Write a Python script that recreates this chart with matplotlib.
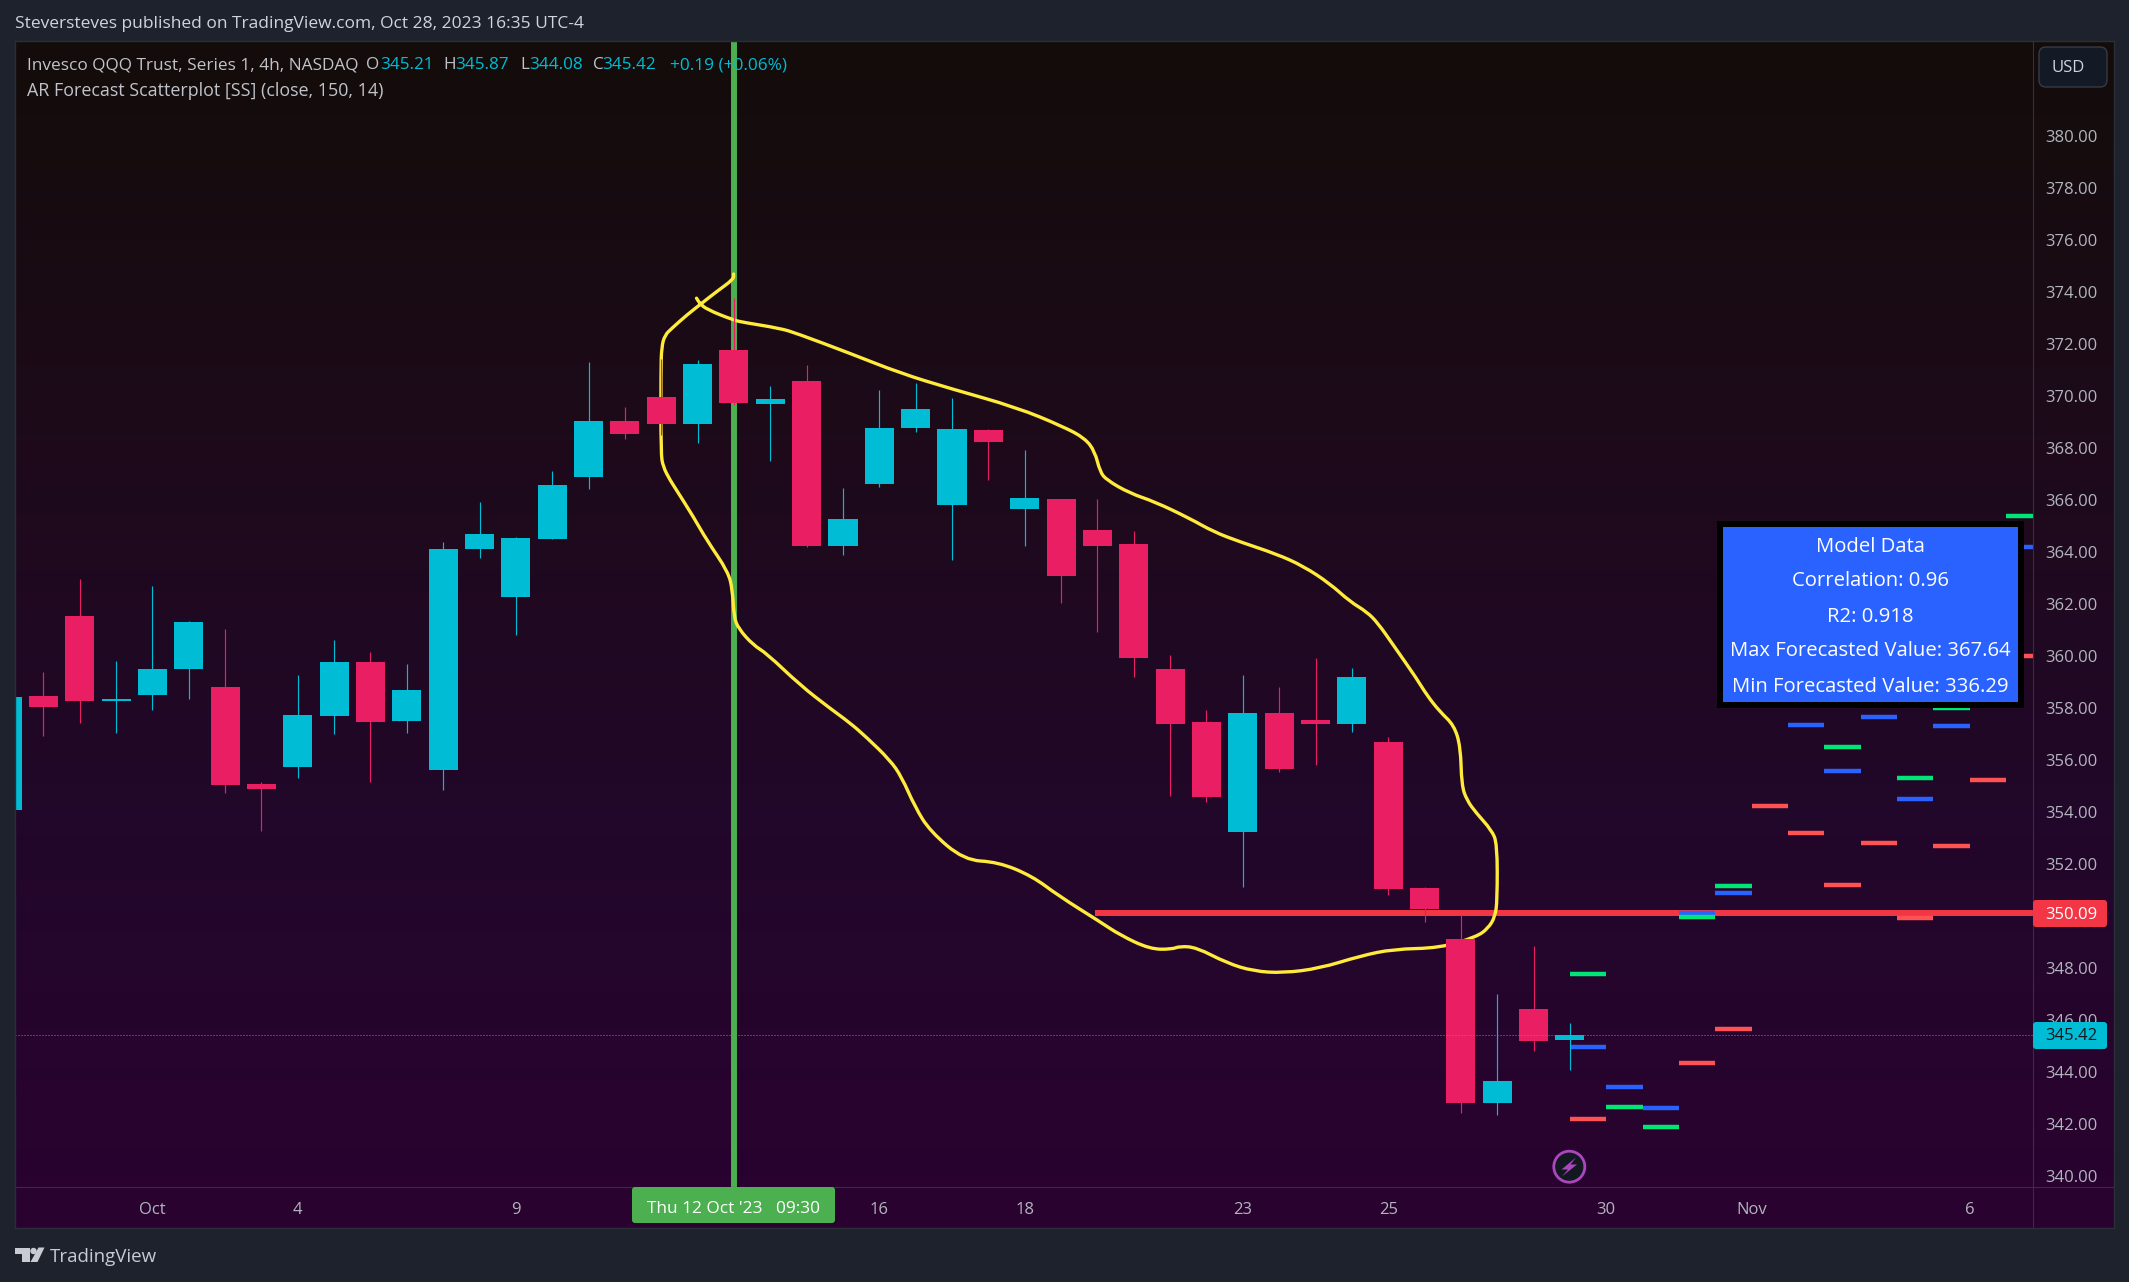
import numpy as np
import matplotlib
matplotlib.use("Agg")
import matplotlib.pyplot as plt
from matplotlib.colors import LinearSegmentedColormap
from matplotlib.lines import Line2D
from matplotlib.path import Path
from matplotlib.patches import Rectangle, FancyBboxPatch, Circle, Polygon, PathPatch
from matplotlib.transforms import Affine2D

plt.rcParams["font.family"] = ["Open Sans", "DejaVu Sans"]

# ===================== data =====================
opens = [354.07, 358.45, 361.53, 358.26, 358.49, 359.49, 358.80, 355.07, 355.72, 357.68, 359.76,
         357.49, 355.60, 364.10, 362.26, 364.49, 366.87, 369.03, 369.95, 368.91, 371.76, 369.68,
         370.57, 364.22, 366.60, 368.76, 365.80, 368.68, 365.64, 366.03, 364.83, 364.30, 359.49,
         357.45, 353.22, 357.80, 357.53, 357.37, 356.68, 351.07, 349.10, 342.80, 346.41, 345.21]
highs = [358.41, 359.37, 362.95, 359.80, 362.68, 361.34, 361.03, 355.14, 359.26, 360.60, 360.14,
         359.68, 364.37, 365.91, 364.57, 367.10, 371.30, 369.57, 371.41, 371.37, 373.76, 370.37,
         371.18, 366.45, 370.22, 370.49, 369.91, 368.72, 367.91, 366.03, 366.03, 364.80, 360.03,
         357.91, 359.26, 358.80, 359.91, 359.53, 356.87, 351.10, 350.03, 346.99, 348.83, 345.87]
lows = [354.07, 356.91, 357.41, 357.03, 357.91, 358.34, 354.72, 353.26, 355.30, 356.99, 355.14,
        357.03, 354.84, 363.76, 360.80, 364.49, 366.41, 368.33, 368.49, 368.18, 369.64, 367.49,
        364.18, 363.87, 366.49, 368.60, 363.68, 366.76, 364.22, 362.03, 360.91, 359.18, 354.60,
        354.37, 351.10, 355.53, 355.80, 357.07, 350.80, 349.76, 342.41, 342.33, 344.80, 344.08]
closes = [358.41, 358.03, 358.26, 358.33, 359.49, 361.30, 355.03, 354.87, 357.72, 359.76, 357.45,
          358.68, 364.10, 364.68, 364.53, 366.57, 369.03, 368.53, 368.91, 371.22, 369.72, 369.87,
          364.22, 365.26, 368.76, 369.49, 368.72, 368.22, 366.07, 363.07, 364.22, 359.91, 357.37,
          354.57, 357.80, 355.64, 357.37, 359.18, 351.03, 350.26, 342.80, 343.64, 345.18, 345.42]

# forecast steps start at bar 43, nan = hidden behind the panel
forecast_start = 43
forecast_green = [347.75, 342.66, 341.89, 349.95, 351.15, np.nan, np.nan, 356.50, np.nan, 355.31, 358.00, np.nan, 365.37]
forecast_blue = [344.96, 343.40, 342.60, 350.10, 350.89, np.nan, 357.32, 355.57, 357.65, 354.50, 357.30, np.nan, 364.18]
forecast_red = [342.18, np.nan, np.nan, 344.32, 345.66, 354.22, 353.19, 351.17, 352.81, 349.92, 352.70, 355.21, 360.00]

# freehand yellow drawing: bar position and price
drawing_bars = [19.99, 19.99, 19.52, 19.11, 18.70, 18.29, 18.10, 18.01, 17.99, 17.99, 18.05, 18.24, 18.42, 18.88,
                19.25, 19.84, 19.96, 20.00, 20.12, 20.53, 20.90, 21.82, 22.64, 23.19, 23.65, 24.29, 24.61, 24.98,
                25.39, 26.33, 27.26, 28.20, 28.94, 30.07, 30.62, 31.44, 32.04, 32.27, 32.73, 33.55, 34.29, 35.11,
                36.12, 37.22, 38.14, 39.42, 40.43, 40.75, 40.94, 41.00, 41.00, 40.84, 40.43, 40.16, 40.02, 39.99,
                39.81, 39.42, 39.06, 38.78, 38.14, 37.72, 37.41, 36.95, 36.39, 35.66, 34.93, 33.92, 33.19, 32.54,
                31.58, 30.89, 30.25, 30.07, 29.93, 29.66, 29.06, 27.78, 25.94, 24.57, 23.19, 21.72, 21.27, 20.26,
                19.98, 19.25, 19.06, 18.97]
drawing_prices = [374.68, 374.48, 374.00, 373.55, 373.10, 372.59, 372.33, 371.88, 370.99, 367.78, 367.27, 366.76,
                  366.37, 365.35, 364.45, 363.23, 362.53, 361.50, 361.05, 360.41, 360.09, 358.87, 357.98, 357.42,
                  356.86, 355.99, 355.35, 354.19, 353.26, 352.14, 352.07, 351.53, 350.76, 349.77, 349.26, 348.72,
                  348.71, 348.83, 348.78, 348.19, 347.87, 347.80, 347.98, 348.45, 348.72, 348.76, 349.19, 349.52,
                  349.96, 350.60, 352.78, 353.30, 353.94, 354.45, 355.03, 356.50, 357.33, 357.85, 358.49, 359.13,
                  360.41, 361.25, 361.69, 362.08, 362.78, 363.45, 363.91, 364.38, 364.77, 365.28, 365.92, 366.25,
                  366.76, 367.08, 367.85, 368.36, 368.81, 369.55, 370.28, 370.87, 371.63, 372.40, 372.59, 372.82,
                  372.91, 373.32, 373.55, 373.75]

# 350.00 is not drawn on the scale, the level label sits there
price_ticks = [p for p in range(340, 382, 2) if p != 350]
time_tick_bars = [4, 8, 14, 24, 28, 34, 38, 44, 48, 54]
time_tick_labels = ["Oct", "4", "9", "16", "18", "23", "25", "30", "Nov", "6"]
marked_bar = 20
level_price = 350.09
level_start = 29.92
last_price = 345.42
panel_lines = ["Model Data", "Correlation: 0.96", "R2: 0.918",
               "Max Forecasted Value: 367.64", "Min Forecasted Value: 336.29"]

# ===================== colours =====================
TEAL = "#00bcd4"
PINK = "#e91e63"
GREY = "#b2b5be"
LIGHT = "#d1d4dc"
LEGEND = "#c0c3cb"
FRAME = "#1e222d"
SEP = "#3b2b45"

# ===================== figure and panes =====================
W, H = 2129, 1282
fig = plt.figure(figsize=(W / 100, H / 100), dpi=100, facecolor=FRAME)
px = Affine2D().scale(1, -1).translate(0, H)  # overlay coordinates in image pixels


def add_axes_px(x0, y0, x1, y1):
    return fig.add_axes([x0 / W, 1 - y1 / H, (x1 - x0) / W, (y1 - y0) / H])


def px_text(x, y, s, color=LIGHT, size=12, ha="left", weight="normal", zorder=6):
    fig.text(x, y, s, color=color, fontsize=size, ha=ha, va="center", weight=weight,
             transform=px, zorder=zorder)


def px_rect(x0, y0, x1, y1, color, zorder=4):
    fig.add_artist(Rectangle((x0, y0), x1 - x0, y1 - y0, facecolor=color, edgecolor="none",
                             transform=px, zorder=zorder))


def px_box(x0, y0, x1, y1, color, edge="none", radius=3, zorder=4):
    fig.add_artist(FancyBboxPatch((x0 + radius, y0 + radius), x1 - x0 - 2 * radius, y1 - y0 - 2 * radius,
                                  boxstyle=f"round,pad={radius},rounding_size={radius}",
                                  facecolor=color, edgecolor=edge, linewidth=1, transform=px, zorder=zorder))


# vertical background gradient behind chart and both scales
bg = add_axes_px(15, 41, 2114, 1228)
bg_cmap = LinearSegmentedColormap.from_list("pane", ["#130d0a", "#1d0a1a", "#22072a", "#2a0230"])
bg.imshow(np.linspace(0, 1, 256)[:, None], cmap=bg_cmap, aspect="auto")
bg.axis("off")

ax = add_axes_px(15, 41, 2033, 1187)
ax.patch.set_alpha(0)
ax.set_xlim(0.22, 55.74)
ax.set_ylim(339.57, 383.64)
for side in ax.spines.values():
    side.set_visible(False)

ax.yaxis.tick_right()
ax.set_yticks(price_ticks)
ax.set_yticklabels([f"{p:.2f}" for p in price_ticks])
ax.set_xticks(time_tick_bars)
ax.set_xticklabels(time_tick_labels)
ax.tick_params(axis="y", length=0, pad=8.6, labelcolor=GREY, labelsize=12)
ax.tick_params(axis="x", length=0, pad=10.5, labelcolor=GREY, labelsize=12)

# ===================== marks =====================
ax.axvline(marked_bar, color="#4caf50", lw=4.3, zorder=1)
ax.plot([level_start, ax.get_xlim()[1]], [level_price, level_price], color="#f23645", lw=4.3,
        solid_capstyle="butt", zorder=2)

# freehand stroke: the read points steer a quadratic curve so it has no corners
stroke = np.column_stack([drawing_bars, drawing_prices])
mids = (stroke[:-1] + stroke[1:]) / 2
verts = [stroke[0]]
codes = [Path.MOVETO]
for ctrl, end in zip(stroke[:-1], mids):
    verts += [ctrl, end]
    codes += [Path.CURVE3, Path.CURVE3]
verts.append(stroke[-1])
codes.append(Path.LINETO)
ax.add_patch(PathPatch(Path(verts, codes), facecolor="none", edgecolor="#ffeb3b", lw=2.4,
                       capstyle="round", joinstyle="round", zorder=3))

step_left = forecast_start + np.arange(len(forecast_red))
ax.hlines(forecast_red, step_left, step_left + 1, color="#ff5252", lw=3.2, zorder=4)
ax.hlines(forecast_blue, step_left, step_left + 1, color="#2962ff", lw=3.2, zorder=4)
ax.hlines(forecast_green, step_left, step_left + 1, color="#00e676", lw=3.2, zorder=4)

bars = np.arange(len(opens))
o, h, l, c = map(np.array, (opens, highs, lows, closes))
colors = [TEAL if b >= a else PINK for a, b in zip(o, c)]
ax.vlines(bars, l, h, colors=colors, lw=0.85, zorder=5)
ax.bar(bars, np.abs(c - o), bottom=np.minimum(o, c), width=0.8, color=colors, linewidth=0, zorder=6)

ax.axhline(last_price, color=TEAL, lw=0.72, ls=(0, (1, 2)), zorder=7)

# ===================== frame lines =====================
for xs, ys in [((15, 2114), (1187, 1187)), ((2033, 2033), (41, 1228))]:
    fig.add_artist(Line2D(xs, ys, color=SEP, lw=0.8, transform=px, zorder=2))
for xs, ys in [((15, 2114), (41, 41)), ((15, 15), (41, 1228)), ((2114, 2114), (41, 1228)), ((15, 2114), (1228, 1228))]:
    fig.add_artist(Line2D(xs, ys, color="#2a2e39", lw=1.0, transform=px, zorder=2))

# ===================== top and legend text =====================
px_text(15, 24, "Steversteves published on TradingView.com, Oct 28, 2023 16:35 UTC-4", color=LIGHT, size=12.5, weight="medium")
px_text(27, 65, "Invesco QQQ Trust, Series 1, 4h, NASDAQ", color=LEGEND, size=12.4)
px_text(27, 91, "AR Forecast Scatterplot [SS] (close, 150, 14)", color=LEGEND, size=12.9)
for x_key, key, x_val, val in [(366, "O", 380, "345.21"), (443, "H", 455, "345.87"),
                               (520, "L", 529, "344.08"), (593, "C", 602, "345.42")]:
    px_text(x_key, 65, key, color=LEGEND, size=12.3)
    px_text(x_val, 65, val, color=TEAL, size=12.3)
px_text(670, 65, "+0.19 (+0.06%)", color=TEAL, size=12.4)

# ===================== scale labels =====================
px_box(2033, 900, 2107, 927, "#f23645")
px_text(2045, 915, f"{level_price:.2f}", color="white", size=12, weight="medium")
px_box(2033, 1022, 2107, 1049, TEAL)
px_text(2045, 1036, f"{last_price:.2f}", color="#131722", size=12)
px_box(632, 1187, 835, 1223, "#4caf50")
px_text(733.5, 1209, "Thu 12 Oct '23   09:30", color="white", size=12.4, ha="center", weight="medium")
px_box(2039, 47, 2107, 87, "#131a25", edge="#363a45", radius=7)
px_text(2068, 68, "USD", color=LIGHT, size=12, ha="center")

# ===================== model data panel =====================
px_rect(1717, 521, 2024, 708, "black", zorder=5)
px_rect(1723, 527, 2018, 702, "#2962ff", zorder=5)
for row, line in enumerate(panel_lines):
    px_text(1870.5, 546.5 + 35 * row, line, color="white", size=14.6, ha="center", weight="medium")

# ===================== lightning icon =====================
fig.add_artist(Circle((1569.3, 1166.7), 15.5, facecolor="#131722", edgecolor="#ab47bc", lw=2.0,
                      transform=px, zorder=5))
fig.add_artist(Polygon([(1576, 1157.5), (1561.5, 1169.5), (1568, 1169.5), (1562, 1176.5), (1577, 1164.5), (1570.5, 1164.5)],
                       closed=True, facecolor="#ab47bc", edgecolor="none", transform=px, zorder=6))

# ===================== footer logo =====================
logo = "#c8cbd3"
fig.add_artist(Polygon([(15, 1247.5), (30, 1247.5), (30, 1262), (22, 1262), (22, 1254), (15, 1254)],
                       closed=True, facecolor=logo, edgecolor="none", transform=px, zorder=5))
fig.add_artist(Circle((33.5, 1251), 3.2, facecolor=logo, edgecolor="none", transform=px, zorder=5))
fig.add_artist(Polygon([(38.5, 1247.5), (44.5, 1247.5), (37.5, 1262), (30.5, 1262)],
                       closed=True, facecolor=logo, edgecolor="none", transform=px, zorder=5))
px_text(50, 1257, "TradingView", color=logo, size=13.5)

fig.savefig("out.png", dpi=100, facecolor=FRAME)
